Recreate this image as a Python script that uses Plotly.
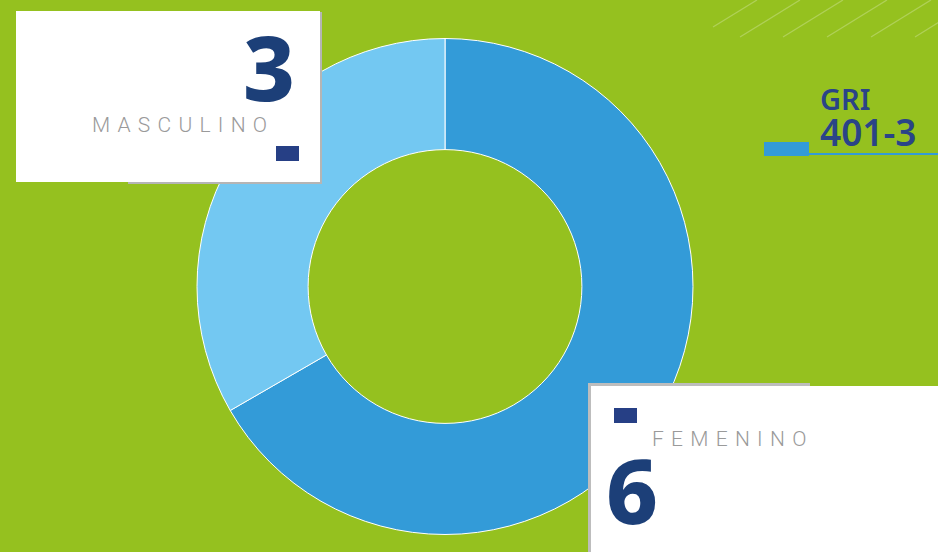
import plotly.graph_objects as go

W, H = 938, 552

categories = ["Femenino", "Masculino"]
values = [6, 3]
slice_colors = ["#339BD8", "#73C8F2"]
gri_title = "GRI"
gri_code = "401-3"

BG = "#95C11F"
NAVY = "#1C3F78"
MARK = "#263F85"


def px(x):
    return x / W


def py(y):
    return 1 - y / H


fig = go.Figure()

fig.add_trace(go.Pie(
    labels=categories,
    values=values,
    marker=dict(colors=slice_colors, line=dict(color="white", width=1)),
    hole=0.552,
    sort=False,
    direction="clockwise",
    rotation=0,
    textinfo="none",
    hoverinfo="label+value",
    showlegend=False,
    domain=dict(x=[px(197), px(693)], y=[py(535), py(38)]),
))

shapes = []


def rect(x0, y0, x1, y1, color, layer="above"):
    shapes.append(dict(type="rect", xref="paper", yref="paper",
                       x0=px(x0), x1=px(x1), y0=py(y1), y1=py(y0),
                       fillcolor=color, line=dict(width=0), layer=layer))


def line(x0, y0, x1, y1, color, width=1):
    shapes.append(dict(type="line", xref="paper", yref="paper",
                       x0=px(x0), x1=px(x1), y0=py(y0), y1=py(y1),
                       line=dict(color=color, width=width), layer="below"))


# decorative diagonal lines top-right
for xs in [740, 783, 827, 871, 915]:
    line(xs, 37, xs + 60, 0, "rgba(255,255,255,0.25)", 1.3)
line(713, 27, 757, 0, "rgba(255,255,255,0.25)", 1.3)

# Masculino card
rect(320, 12, 322, 184, "#B5B5B5")
rect(128, 181, 322, 184, "#B5B5B5")
rect(16, 11, 320, 182, "white")
rect(276, 146, 299, 161, MARK)

# Femenino card
rect(588, 384, 592, 552, "#BDBDBD")
rect(588, 383, 810, 387, "#BDBDBD")
rect(591, 386, 938, 552, "white")
rect(614, 408, 637, 423, MARK)

# GRI marker
rect(764, 142, 809, 156, "#339BD8")
rect(809, 153, 938, 155, "#339BD8")

fig.update_layout(shapes=shapes)

ann = []


def text(t, x, y, size, color, xanchor="left", yanchor="middle", family="Noto Sans", weight=400):
    ann.append(dict(text=t, x=px(x), y=py(y), xref="paper", yref="paper",
                    xanchor=xanchor, yanchor=yanchor, showarrow=False,
                    borderpad=0, font=dict(size=size, color=color, family=family, weight=weight)))


def spaced(word):
    return "\u0020\u200a".join(word.upper())


masc_i = categories.index("Masculino")
fem_i = categories.index("Femenino")

text(str(values[masc_i]), 296, 66, 90, NAVY, xanchor="right", family="Noto Sans", weight=800)
text(spaced(categories[masc_i]), 268, 125, 21, "#9A9A9A",
     xanchor="right", family="Roboto", weight=300)

text(str(values[fem_i]), 605, 489, 90, NAVY, xanchor="left", family="Noto Sans", weight=800)
text(spaced(categories[fem_i]), 651, 439, 21, "#9A9A9A",
     xanchor="left", family="Roboto", weight=300)

text(gri_title, 819, 98, 29, "#2A4487", family="Noto Sans", weight=600)
text(gri_code, 819, 131, 37, "#2A4487", family="Noto Sans", weight=600)

fig.update_layout(
    annotations=ann,
    width=W, height=H,
    margin=dict(l=0, r=0, t=0, b=0),
    paper_bgcolor=BG,
    plot_bgcolor=BG,
)

fig.write_html("out.html", config={"displayModeBar": False},
               post_script="document.body.style.margin='0px';")
